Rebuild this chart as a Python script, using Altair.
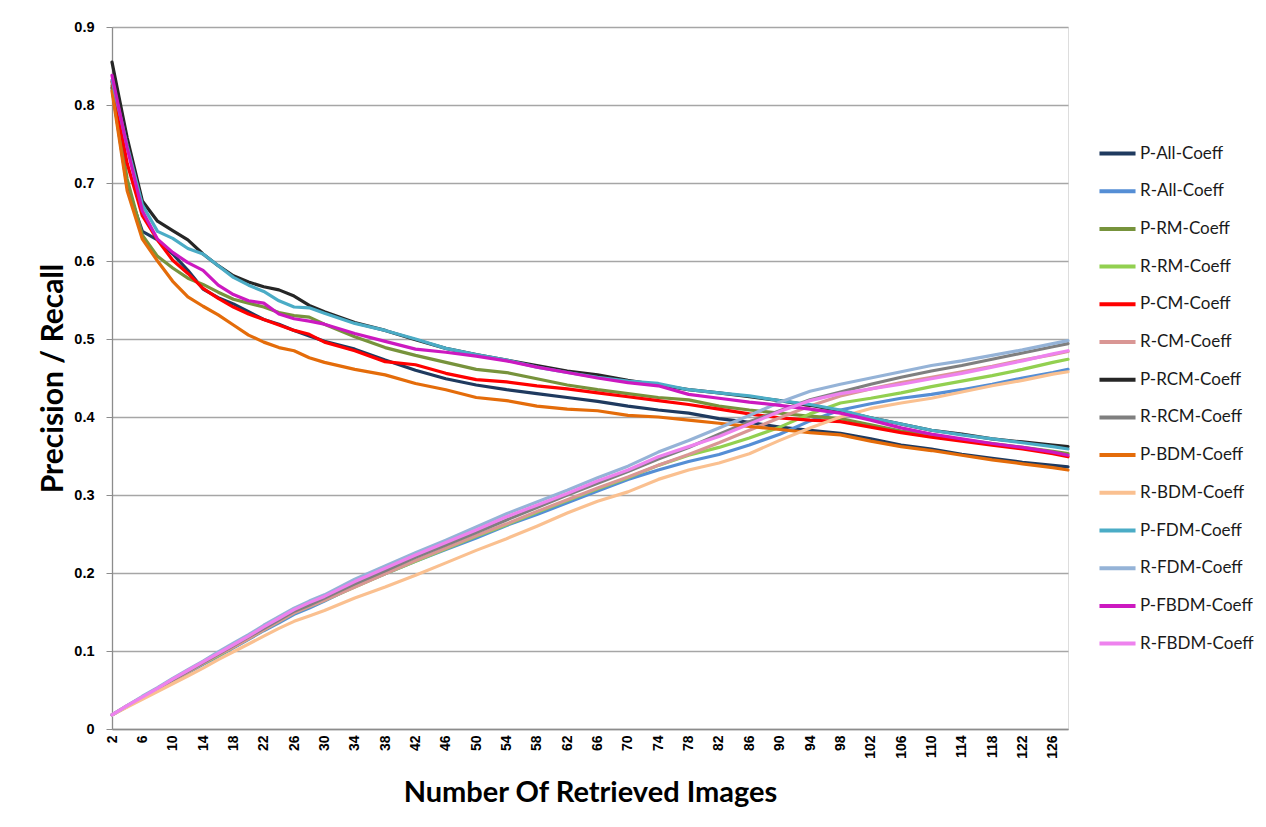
import altair as alt
import pandas as pd

# Number of retrieved images at which precision / recall were recorded
retrieved = [2, 4, 6, 8, 10, 12, 14, 16, 18, 20, 22, 24, 26, 28, 30, 34, 38, 42, 46, 50,
             54, 58, 62, 66, 70, 74, 78, 82, 86, 90, 94, 98, 102, 106, 110, 114, 118, 122, 126, 128]

series_names = ["P-All-Coeff", "R-All-Coeff", "P-RM-Coeff", "R-RM-Coeff", "P-CM-Coeff",
                "R-CM-Coeff", "P-RCM-Coeff", "R-RCM-Coeff", "P-BDM-Coeff", "R-BDM-Coeff",
                "P-FDM-Coeff", "R-FDM-Coeff", "P-FBDM-Coeff", "R-FBDM-Coeff"]

series_colors = ["#1F3A5F", "#558ED5", "#77933C", "#92D050", "#FF0000",
                 "#D99694", "#262626", "#7F7F7F", "#E46C0A", "#FAC090",
                 "#4BACC6", "#95B3D7", "#CC19C0", "#EE82EE"]

p_all = [0.822, 0.695, 0.638, 0.627, 0.609, 0.588, 0.564, 0.553, 0.545, 0.535, 0.525, 0.519, 0.511, 0.504,
         0.497, 0.487, 0.473, 0.460, 0.449, 0.441, 0.435, 0.430, 0.425, 0.420, 0.414, 0.409, 0.405, 0.398,
         0.393, 0.387, 0.383, 0.379, 0.372, 0.364, 0.359, 0.352, 0.347, 0.342, 0.338, 0.336]
r_all = [0.018, 0.029, 0.040, 0.050, 0.061, 0.072, 0.083, 0.093, 0.104, 0.115, 0.126, 0.136, 0.147, 0.155,
         0.164, 0.183, 0.199, 0.215, 0.230, 0.245, 0.261, 0.275, 0.290, 0.305, 0.320, 0.332, 0.343, 0.352,
         0.364, 0.378, 0.395, 0.409, 0.417, 0.424, 0.429, 0.435, 0.442, 0.450, 0.457, 0.461]
p_rm = [0.825, 0.705, 0.633, 0.606, 0.591, 0.578, 0.570, 0.560, 0.551, 0.546, 0.541, 0.534, 0.530, 0.528,
        0.519, 0.503, 0.489, 0.479, 0.470, 0.461, 0.457, 0.449, 0.441, 0.435, 0.430, 0.425, 0.422, 0.414,
        0.409, 0.405, 0.401, 0.398, 0.390, 0.382, 0.377, 0.371, 0.366, 0.361, 0.356, 0.353]
r_rm = [0.018, 0.029, 0.040, 0.051, 0.062, 0.073, 0.084, 0.094, 0.105, 0.116, 0.127, 0.138, 0.149, 0.157,
        0.165, 0.182, 0.199, 0.215, 0.231, 0.247, 0.262, 0.278, 0.293, 0.308, 0.322, 0.338, 0.351, 0.361,
        0.373, 0.387, 0.404, 0.418, 0.424, 0.431, 0.439, 0.446, 0.453, 0.461, 0.470, 0.474]
p_cm = [0.830, 0.725, 0.658, 0.627, 0.601, 0.584, 0.565, 0.552, 0.541, 0.532, 0.525, 0.518, 0.511, 0.506,
        0.496, 0.485, 0.471, 0.467, 0.456, 0.448, 0.445, 0.440, 0.436, 0.431, 0.426, 0.421, 0.416, 0.410,
        0.404, 0.399, 0.396, 0.394, 0.387, 0.380, 0.374, 0.369, 0.364, 0.359, 0.353, 0.349]
r_cm = [0.018, 0.029, 0.040, 0.051, 0.062, 0.073, 0.084, 0.095, 0.105, 0.116, 0.127, 0.138, 0.149, 0.157,
        0.165, 0.182, 0.199, 0.216, 0.232, 0.248, 0.263, 0.279, 0.294, 0.309, 0.323, 0.338, 0.352, 0.367,
        0.383, 0.399, 0.414, 0.427, 0.436, 0.444, 0.451, 0.458, 0.465, 0.473, 0.480, 0.484]
p_rcm = [0.855, 0.758, 0.677, 0.651, 0.639, 0.627, 0.609, 0.594, 0.581, 0.573, 0.567, 0.563, 0.555, 0.543,
         0.535, 0.521, 0.511, 0.499, 0.488, 0.480, 0.473, 0.466, 0.459, 0.454, 0.447, 0.441, 0.435, 0.431,
         0.426, 0.421, 0.415, 0.408, 0.399, 0.391, 0.383, 0.378, 0.372, 0.368, 0.364, 0.362]
r_rcm = [0.018, 0.030, 0.041, 0.052, 0.063, 0.074, 0.085, 0.096, 0.107, 0.118, 0.129, 0.140, 0.151, 0.159,
         0.168, 0.186, 0.203, 0.220, 0.236, 0.252, 0.268, 0.284, 0.300, 0.315, 0.330, 0.346, 0.361, 0.378,
         0.394, 0.408, 0.422, 0.432, 0.442, 0.451, 0.459, 0.466, 0.474, 0.482, 0.490, 0.494]
p_bdm = [0.818, 0.690, 0.628, 0.600, 0.574, 0.554, 0.542, 0.531, 0.518, 0.505, 0.496, 0.489, 0.485, 0.476,
         0.470, 0.461, 0.454, 0.443, 0.435, 0.425, 0.421, 0.414, 0.410, 0.408, 0.402, 0.400, 0.396, 0.392,
         0.388, 0.384, 0.380, 0.377, 0.369, 0.362, 0.357, 0.351, 0.345, 0.340, 0.335, 0.332]
r_bdm = [0.018, 0.028, 0.038, 0.048, 0.058, 0.068, 0.078, 0.089, 0.099, 0.109, 0.119, 0.129, 0.138, 0.145,
         0.152, 0.168, 0.182, 0.197, 0.213, 0.229, 0.244, 0.260, 0.277, 0.292, 0.304, 0.320, 0.332, 0.341,
         0.353, 0.370, 0.386, 0.400, 0.411, 0.418, 0.424, 0.432, 0.440, 0.447, 0.455, 0.458]
p_fdm = [0.832, 0.748, 0.672, 0.638, 0.629, 0.616, 0.609, 0.594, 0.579, 0.569, 0.561, 0.549, 0.541, 0.540,
         0.533, 0.520, 0.511, 0.500, 0.488, 0.480, 0.473, 0.464, 0.457, 0.451, 0.446, 0.443, 0.435, 0.431,
         0.427, 0.421, 0.416, 0.409, 0.399, 0.391, 0.383, 0.377, 0.372, 0.367, 0.362, 0.359]
r_fdm = [0.018, 0.030, 0.042, 0.053, 0.065, 0.076, 0.087, 0.099, 0.110, 0.121, 0.133, 0.144, 0.155, 0.164,
         0.172, 0.192, 0.209, 0.226, 0.242, 0.259, 0.276, 0.291, 0.306, 0.322, 0.337, 0.355, 0.370, 0.386,
         0.402, 0.419, 0.433, 0.442, 0.450, 0.458, 0.466, 0.472, 0.479, 0.486, 0.494, 0.498]
p_fbdm = [0.838, 0.745, 0.664, 0.628, 0.611, 0.598, 0.588, 0.569, 0.557, 0.549, 0.546, 0.532, 0.526, 0.523,
          0.519, 0.507, 0.497, 0.487, 0.483, 0.478, 0.472, 0.464, 0.457, 0.450, 0.444, 0.440, 0.429, 0.424,
          0.419, 0.415, 0.410, 0.405, 0.396, 0.386, 0.378, 0.372, 0.366, 0.361, 0.355, 0.351]
r_fbdm = [0.018, 0.030, 0.041, 0.052, 0.064, 0.075, 0.086, 0.097, 0.108, 0.119, 0.131, 0.142, 0.153, 0.162,
          0.170, 0.189, 0.206, 0.223, 0.239, 0.255, 0.272, 0.287, 0.302, 0.318, 0.332, 0.349, 0.362, 0.375,
          0.391, 0.407, 0.421, 0.430, 0.436, 0.442, 0.449, 0.456, 0.464, 0.472, 0.481, 0.485]

series_values = [p_all, r_all, p_rm, r_rm, p_cm, r_cm, p_rcm, r_rcm,
                 p_bdm, r_bdm, p_fdm, r_fdm, p_fbdm, r_fbdm]

x_tick_labels = list(range(2, 127, 4))
y_ticks = [0, 0.1, 0.2, 0.3, 0.4, 0.5, 0.6, 0.7, 0.8, 0.9]

rows = []
for name, vals in zip(series_names, series_values):
    for x, v in zip(retrieved, vals):
        rows.append({"Retrieved": x, "Value": v, "Series": name})
df = pd.DataFrame(rows)

chart = (
    alt.Chart(df)
    .mark_line(strokeWidth=3.2, strokeJoin="round", strokeCap="round")
    .encode(
        x=alt.X(
            "Retrieved:Q",
            scale=alt.Scale(domain=[2, 128], nice=False, zero=False),
            axis=alt.Axis(
                values=x_tick_labels,
                labelAngle=270,
                labelAlign="right",
                labelBaseline="middle",
                labelFont="Liberation Sans",
                labelFontWeight="bold",
                labelFontSize=14,
                labelColor="#000000",
                labelPadding=6,
                ticks=False,
                grid=False,
                domainColor="#8C8C8C",
                domainWidth=1.3,
                title="Number Of Retrieved Images",
                titleFont="Lato",
                titleFontWeight="bold",
                titleFontSize=29,
                titleColor="#000000",
                titlePadding=20,
            ),
        ),
        y=alt.Y(
            "Value:Q",
            scale=alt.Scale(domain=[0, 0.9], nice=False),
            axis=alt.Axis(
                values=y_ticks,
                labelExpr="datum.value == 0 ? '0' : format(datum.value, '.1f')",
                labelFont="Liberation Sans",
                labelFontWeight="bold",
                labelFontSize=14.5,
                labelColor="#000000",
                labelPadding=12,
                tickSize=6,
                tickColor="#8C8C8C",
                domainColor="#8C8C8C",
                domainWidth=1.3,
                gridColor="#A6A6A6",
                gridWidth=1.3,
                title="Precision / Recall",
                titleFont="Lato",
                titleFontWeight="bold",
                titleFontSize=30,
                titleColor="#000000",
                titlePadding=5,
            ),
        ),
        color=alt.Color(
            "Series:N",
            scale=alt.Scale(domain=series_names, range=series_colors),
            legend=alt.Legend(
                title=None,
                orient="none",
                legendX=985,
                legendY=106,
                symbolType="stroke",
                symbolSize=1300,
                symbolStrokeWidth=4,
                labelFont="Lato",
                labelFontSize=17,
                labelColor="#1A1A1A",
                labelOffset=2,
                rowPadding=8.7,
                labelLimit=300,
            ),
        ),
        order=alt.Order("Retrieved:Q"),
    )
    .properties(
        width=956,
        height=702,
        autosize=alt.AutoSizeParams(type="none"),
        padding={"left": 112, "top": 27, "right": 198, "bottom": 98},
    )
    .configure_view(stroke=None)
    .configure(background="#FFFFFF")
)

chart.save("out.html", embed_options={"renderer": "svg", "actions": False})
